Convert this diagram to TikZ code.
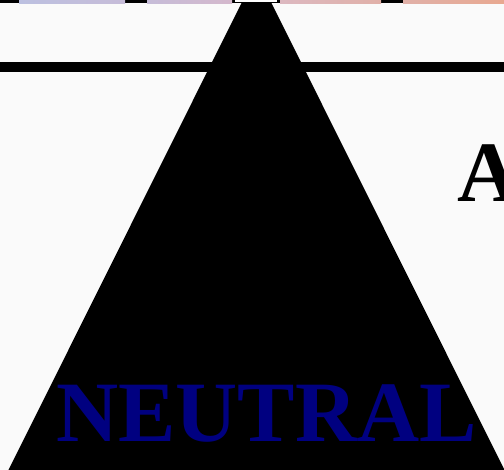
\documentclass[tikz,border=0pt]{standalone}
\usepackage{fontspec}
\setmainfont{Liberation Serif}
\usetikzlibrary{positioning}
\definecolor{navy}{HTML}{000080}
\definecolor{paper}{HTML}{FAFAFA}
\definecolor{barA}{HTML}{BCC0E0}
\definecolor{barB}{HTML}{C6BCD8}
\definecolor{barC}{HTML}{D4B8CC}
\definecolor{barD}{HTML}{DCB8C0}
\definecolor{barE}{HTML}{E0B0A8}
\definecolor{barF}{HTML}{E8A890}

\begin{document}
\begin{tikzpicture}[x=1pt, y=1pt,
  big/.style={font=\fontsize{86}{86}\selectfont\bfseries, inner sep=0pt, anchor=base west}]
\useasboundingbox (0,0) rectangle (504,470);
\clip (0,0) rectangle (504,470);
\fill[paper] (0,0) rectangle (504,470);
% top strip
\fill (0,466.5) rectangle (504,470);
\shade[left color=barA, right color=barB] (19,466.5) rectangle (125,470);
\shade[left color=barB, right color=barC] (147,466.5) rectangle (232,470);
\shade[left color=barD, right color=barE] (280,466.5) rectangle (381,470);
\shade[left color=barE, right color=barF] (403,466.5) rectangle (504,470);
% pyramid
\fill (256.5,497) -- (8,-1) -- (505,-1) -- cycle;
\fill (0,398) rectangle (504,408);
\node[fill=white, inner sep=0pt, minimum width=42pt, minimum height=2pt, anchor=south] (cap) at (256,468) {};
% words
\node[big] (lbl) at (457,268) {A};
\node[big, text=navy] (neutral) at (56,28) {NEUTRAL};
\end{tikzpicture}
\end{document}
